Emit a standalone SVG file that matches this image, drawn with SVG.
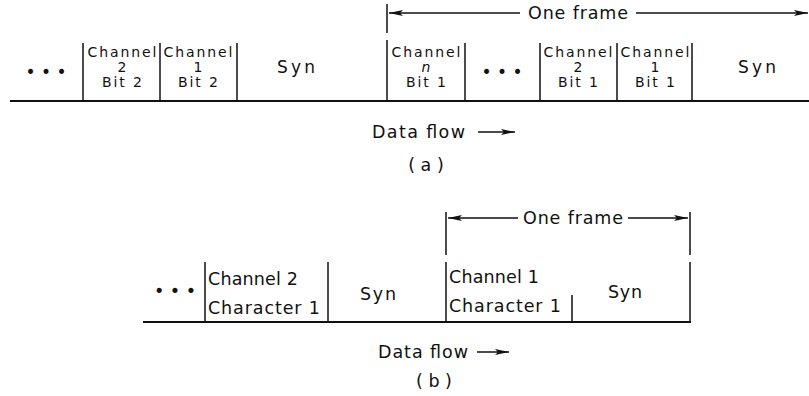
<svg xmlns="http://www.w3.org/2000/svg" width="809" height="396" viewBox="0 0 809 396">
<style>
text{font-family:"DejaVu Sans","Liberation Sans",sans-serif;fill:#111;}
.a{font-size:14px;text-anchor:middle;}
.s{font-size:17px;text-anchor:middle;}
.b{font-size:17.5px;}
.c{font-size:17.5px;text-anchor:middle;}
.base{stroke:#111;stroke-width:2;fill:none;}
.div{stroke:#111;stroke-width:1.5;fill:none;}
.arr{stroke:#111;stroke-width:1.5;fill:none;}
</style>
<defs>
<marker id="ah" viewBox="0 0 14 8" refX="14" refY="4" markerWidth="14" markerHeight="8" markerUnits="userSpaceOnUse" orient="auto-start-reverse">
<path d="M0,1 L14,4 L0,7 L3,4 Z" fill="#111"/>
</marker>
</defs>
<g id="connectors">
<line class="base" x1="10" y1="101" x2="809" y2="101"/>
<line class="div" x1="387" y1="4" x2="387" y2="33"/>
<line class="arr" x1="389" y1="13" x2="520" y2="13" marker-start="url(#ah)"/>
<line class="arr" x1="636" y1="13" x2="808" y2="13" marker-end="url(#ah)"/>
<line class="arr" x1="478" y1="132" x2="515" y2="132" marker-end="url(#ah)"/>
<line class="base" x1="143" y1="322" x2="691" y2="322"/>
<line class="div" x1="446" y1="212" x2="446" y2="255"/>
<line class="div" x1="690" y1="212" x2="690" y2="255"/>
<line class="arr" x1="448" y1="218" x2="518" y2="218" marker-start="url(#ah)"/>
<line class="arr" x1="628" y1="218" x2="688" y2="218" marker-end="url(#ah)"/>
<line class="arr" x1="477" y1="352" x2="509" y2="352" marker-end="url(#ah)"/>
</g>
<g id="dots-a1"><text class="s" x="46" y="78">• • •</text></g>
<g id="a-ch2-bit2">
<line class="div" x1="83" y1="43" x2="83" y2="101"/>
<text class="a" x="122" y="57" textLength="69" lengthAdjust="spacing">Channel</text><text class="a" x="122" y="72">2</text><text class="a" x="122" y="87" textLength="40" lengthAdjust="spacing">Bit 2</text>
</g>
<g id="a-ch1-bit2">
<line class="div" x1="160" y1="43" x2="160" y2="101"/>
<text class="a" x="198" y="57" textLength="69" lengthAdjust="spacing">Channel</text><text class="a" x="198" y="72">1</text><text class="a" x="198" y="87" textLength="40" lengthAdjust="spacing">Bit 2</text>
</g>
<g id="a-syn1">
<line class="div" x1="237" y1="43" x2="237" y2="101"/>
<text class="s" x="296" y="73" textLength="38" lengthAdjust="spacing">Syn</text>
</g>
<g id="a-chn-bit1">
<line class="div" x1="387" y1="40" x2="387" y2="101"/>
<text class="a" x="426" y="57" textLength="69" lengthAdjust="spacing">Channel</text><text class="a" x="426" y="72" font-style="italic">n</text><text class="a" x="426" y="87" textLength="40" lengthAdjust="spacing">Bit 1</text>
</g>
<g id="dots-a2">
<line class="div" x1="465" y1="43" x2="465" y2="101"/>
<text class="s" x="502" y="78">• • •</text>
</g>
<g id="a-ch2-bit1">
<line class="div" x1="540" y1="43" x2="540" y2="101"/>
<text class="a" x="578" y="57" textLength="69" lengthAdjust="spacing">Channel</text><text class="a" x="578" y="72">2</text><text class="a" x="578" y="87" textLength="40" lengthAdjust="spacing">Bit 1</text>
</g>
<g id="a-ch1-bit1">
<line class="div" x1="617" y1="43" x2="617" y2="101"/>
<text class="a" x="655" y="57" textLength="69" lengthAdjust="spacing">Channel</text><text class="a" x="655" y="72">1</text><text class="a" x="655" y="87" textLength="40" lengthAdjust="spacing">Bit 1</text>
</g>
<g id="a-syn2">
<line class="div" x1="692" y1="43" x2="692" y2="101"/>
<text class="s" x="757" y="73" textLength="38" lengthAdjust="spacing">Syn</text>
</g>
<g id="a-labels">
<text class="b" x="528" y="19" textLength="100" lengthAdjust="spacing">One frame</text>
<text class="b" x="372" y="138" textLength="93" lengthAdjust="spacing">Data flow</text>
<text class="c" x="426" y="171">( a )</text>
</g>
<g id="dots-b"><text class="c" x="175" y="297">• • •</text></g>
<g id="b-ch2-char1">
<line class="div" x1="205" y1="262" x2="205" y2="322"/>
<text class="b" x="208" y="285" textLength="90" lengthAdjust="spacing">Channel 2</text>
<text class="b" x="208" y="314" textLength="112" lengthAdjust="spacing">Character 1</text>
</g>
<g id="b-syn1">
<line class="div" x1="328" y1="262" x2="328" y2="322"/>
<text class="c" x="378" y="300" textLength="36" lengthAdjust="spacing">Syn</text>
</g>
<g id="b-ch1-char1">
<line class="div" x1="446" y1="262" x2="446" y2="322"/>
<text class="b" x="449" y="283" textLength="90" lengthAdjust="spacing">Channel 1</text>
<text class="b" x="449" y="312" textLength="112" lengthAdjust="spacing">Character 1</text>
</g>
<g id="b-syn2">
<line class="div" x1="572" y1="295" x2="572" y2="322"/>
<line class="div" x1="690" y1="262" x2="690" y2="322"/>
<text class="c" x="625" y="298" textLength="34" lengthAdjust="spacing">Syn</text>
</g>
<g id="b-labels">
<text class="b" x="523" y="224" textLength="100" lengthAdjust="spacing">One frame</text>
<text class="b" x="378" y="358" textLength="90" lengthAdjust="spacing">Data flow</text>
<text class="c" x="434" y="387">( b )</text>
</g>
</svg>
